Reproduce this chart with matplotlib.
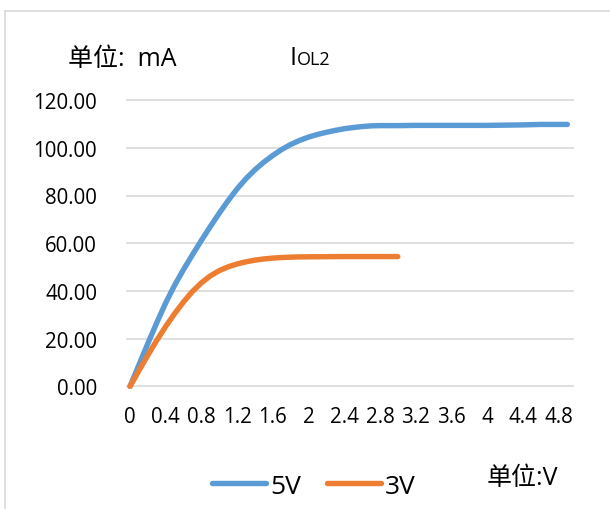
import matplotlib.pyplot as plt
from matplotlib.lines import Line2D

plt.rcParams["font.family"] = ["Open Sans", "Noto Sans CJK SC", "DejaVu Sans"]

# output current at 5 V and 3 V supply, mA vs V
x_5v = [0, 0.1, 0.2, 0.3, 0.4, 0.5, 0.6, 0.7, 0.8, 0.9, 1.0, 1.1, 1.2, 1.3, 1.4,
        1.5, 1.6, 1.7, 1.8, 1.9, 2.0, 2.1, 2.2, 2.3, 2.4, 2.5, 2.6, 2.7, 2.8,
        3.0, 3.2, 3.4, 3.6, 3.8, 4.0, 4.2, 4.4, 4.6, 4.8, 4.9]
i_5v = [0, 9, 18, 26.7, 35, 42.4, 49, 55.2, 61.2, 67, 72.6, 77.9, 82.8, 87.1, 90.8,
        94, 96.8, 99.3, 101.4, 103.1, 104.5, 105.6, 106.5, 107.3, 108, 108.5, 108.9,
        109.2, 109.3,
        109.3, 109.4, 109.4, 109.4, 109.4, 109.4, 109.5, 109.6, 109.8, 109.8, 109.8]

x_3v = [0, 0.1, 0.2, 0.3, 0.4, 0.5, 0.6, 0.7, 0.8, 0.9, 1.0, 1.1, 1.2, 1.3, 1.4,
        1.5, 1.6, 1.7, 1.8, 1.9, 2.0, 2.2, 2.4, 2.6, 2.8, 3.0]
i_3v = [0, 6.6, 13.1, 19.3, 25.1, 30.5, 35.4, 39.8, 43.4, 46.3, 48.5, 50.1, 51.3, 52.2,
        52.9, 53.4, 53.75, 54, 54.15, 54.25, 54.3, 54.35, 54.4, 54.4, 54.4, 54.4]

x_ticks = [0, 0.4, 0.8, 1.2, 1.6, 2, 2.4, 2.8, 3.2, 3.6, 4, 4.4, 4.8]
x_ticklabels = ["0", "0.4", "0.8", "1.2", "1.6", "2", "2.4", "2.8", "3.2", "3.6", "4",
                "4.4", "4.8"]
y_ticks = [0, 20, 40, 60, 80, 100, 120]

BLUE = "#5B9BD5"
ORANGE = "#ED7D31"
GRID = "#D9D9D9"

W, H = 610, 510
fig = plt.figure(figsize=(W / 100, H / 100), dpi=100)
ax = fig.add_axes([127 / W, 1 - 387.3 / H, (572.7 - 127) / W, (387.3 - 101.1) / H])

ln5, = ax.plot(x_5v, i_5v, color=BLUE, lw=3.9, solid_capstyle="round",
               solid_joinstyle="round", clip_on=False, zorder=3)
ln3, = ax.plot(x_3v, i_3v, color=ORANGE, lw=3.9, solid_capstyle="round",
               solid_joinstyle="round", clip_on=False, zorder=4)

ax.set_xlim(-0.034, 4.96)
ax.set_ylim(0, 120)
ax.set_xticks(x_ticks)
ax.set_xticklabels(x_ticklabels)
ax.set_yticks(y_ticks)
ax.set_yticklabels([f"{v:.2f}" for v in y_ticks])
ax.tick_params(axis="both", length=0, labelsize=14.8, colors="black")
ax.tick_params(axis="y", pad=21.5)
ax.tick_params(axis="x", pad=14)
ax.yaxis.grid(True, color=GRID, lw=1.2)
for gl in ax.get_ygridlines():
    gl.set_clip_on(False)
for s in ax.spines.values():
    s.set_visible(False)

# chart-area border (left and top edges)
fig.add_artist(Line2D([5 / W, 5 / W], [0, 1 - 12 / H], color=GRID, lw=1.2))
fig.add_artist(Line2D([5 / W, 1], [1 - 12 / H, 1 - 12 / H], color=GRID, lw=1.2))

fig.text(68 / W, 1 - 60 / H, "单位:  mA", fontsize=18, va="center", ha="left")
fig.text(290 / W, 1 - 65 / H, "I", fontsize=18, va="baseline", ha="left")
fig.text(297 / W, 1 - 65 / H, "OL2", fontsize=13, va="baseline", ha="left")
fig.text(487 / W, 1 - 479 / H, "单位:V", fontsize=18, va="center", ha="left")

fig.legend([ln5, ln3], ["5V", "3V"], loc="center", bbox_to_anchor=(314 / W, 1 - 487 / H),
           ncol=2, frameon=False, fontsize=19, handlelength=2.05, handletextpad=0.15,
           columnspacing=1.0, borderpad=0, borderaxespad=0)

fig.savefig("out.png", dpi=100)
